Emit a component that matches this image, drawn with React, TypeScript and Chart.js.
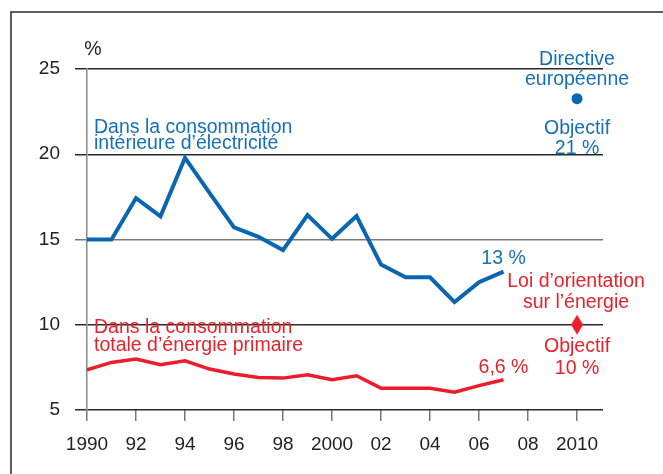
import React, { useEffect, useRef } from "react";
import { Chart, registerables } from "chart.js";

Chart.register(...registerables);

// ---------- data ----------
const years = [1990, 1991, 1992, 1993, 1994, 1995, 1996, 1997, 1998, 1999, 2000, 2001, 2002, 2003, 2004, 2005, 2006, 2007];
const electricityShare = [15.0, 15.0, 17.43, 16.36, 19.79, 17.73, 15.71, 15.16, 14.38, 16.43, 15.04, 16.37, 13.53, 12.78, 12.78, 11.33, 12.5, 13.12];
const primaryEnergyShare = [7.36, 7.79, 7.99, 7.66, 7.89, 7.4, 7.11, 6.91, 6.87, 7.07, 6.77, 7.01, 6.28, 6.28, 6.28, 6.04, 6.43, 6.77];
const targetYear = 2010;
const euDirectiveMarker = 23.26;
const lawTarget = 10;
const xTickValues = [1990, 1992, 1994, 1996, 1998, 2000, 2002, 2004, 2006, 2008, 2010];
const xTickLabels = ["1990", "92", "94", "96", "98", "2000", "02", "04", "06", "08", "2010"];
const yTickValues = [5, 10, 15, 20, 25];

// ---------- styles ----------
const BLUE = "#0a66b0";
const BLUE_TEXT = "#1670b8";
const RED = "#ec1c2a";
const RED_TEXT = "#e8222c";
const DARK = "#222222";
const FONT = '"Liberation Sans", Arial, sans-serif';

type Note = { lines: string[]; x: number; y: number; dx: number; dy: number[]; align: CanvasTextAlign; color: string };

const notes: Note[] = [
  { lines: ["%"], x: 1990, y: 25, dx: 6, dy: [-14.5], align: "center", color: DARK },
  { lines: ["Dans la consommation", "intérieure d’électricité"], x: 1990, y: 20, dx: 7, dy: [-21.5, -5], align: "left", color: BLUE_TEXT },
  { lines: ["Directive", "européenne"], x: targetYear, y: 25, dx: 0, dy: [-4, 15.5], align: "center", color: BLUE_TEXT },
  { lines: ["Objectif", "21 %"], x: targetYear, y: 20, dx: 0, dy: [-20, -0.5], align: "center", color: BLUE_TEXT },
  { lines: ["13 %"], x: 2007, y: electricityShare[electricityShare.length - 1], dx: 0, dy: [-8], align: "center", color: BLUE_TEXT },
  { lines: ["Loi d’orientation", "sur l’énergie"], x: targetYear, y: lawTarget, dx: -1, dy: [-37.5, -16.5], align: "center", color: RED_TEXT },
  { lines: ["Objectif", "10 %"], x: targetYear, y: lawTarget, dx: 0, dy: [27.5, 49.3], align: "center", color: RED_TEXT },
  { lines: ["Dans la consommation", "totale d’énergie primaire"], x: 1990, y: 10, dx: 7, dy: [8.3, 26], align: "left", color: RED_TEXT },
  { lines: ["6,6 %"], x: 2007, y: primaryEnergyShare[primaryEnergyShare.length - 1], dx: 0, dy: [-7], align: "center", color: RED_TEXT },
];

function makeDiamond(): HTMLCanvasElement {
  const c = document.createElement("canvas");
  c.width = 14;
  c.height = 22;
  const g = c.getContext("2d")!;
  g.fillStyle = RED;
  g.beginPath();
  g.moveTo(7, 1);
  g.lineTo(13, 11);
  g.lineTo(7, 21);
  g.lineTo(1, 11);
  g.closePath();
  g.fill();
  return c;
}

const framePlugin = {
  id: "frame",
  beforeDraw(chart: any) {
    const ctx = chart.ctx;
    ctx.save();
    ctx.fillStyle = "#ffffff";
    ctx.fillRect(0, 0, chart.width, chart.height);
    ctx.strokeStyle = "#2a2a2a";
    ctx.lineWidth = 1.5;
    ctx.strokeRect(11, 12, chart.width + 50, chart.height + 50);
    ctx.restore();
  },
};

const notesPlugin = {
  id: "notes",
  afterDatasetsDraw(chart: any) {
    const ctx = chart.ctx;
    const xs = chart.scales.x;
    const ys = chart.scales.y;
    ctx.save();
    ctx.font = `19.5px ${FONT}`;
    ctx.textBaseline = "alphabetic";
    for (const n of notes) {
      const px = xs.getPixelForValue(n.x) + n.dx;
      const py = ys.getPixelForValue(n.y);
      ctx.fillStyle = n.color;
      ctx.textAlign = n.align;
      n.lines.forEach((t, i) => ctx.fillText(t, px, py + n.dy[i]));
    }
    ctx.restore();
  },
};

export default function App() {
  const ref = useRef<HTMLCanvasElement>(null);

  useEffect(() => {
    const diamond = makeDiamond();
    const chart = new Chart(ref.current!, {
      type: "line",
      data: {
        datasets: [
          {
            data: years.map((y, i) => ({ x: y, y: electricityShare[i] })),
            borderColor: BLUE,
            borderWidth: 4,
            pointRadius: 0,
            tension: 0,
          },
          {
            data: years.map((y, i) => ({ x: y, y: primaryEnergyShare[i] })),
            borderColor: RED,
            borderWidth: 3.5,
            pointRadius: 0,
            tension: 0,
          },
          {
            data: [{ x: targetYear, y: euDirectiveMarker }],
            showLine: false,
            pointRadius: 5.5,
            pointStyle: "circle",
            backgroundColor: BLUE,
            borderColor: BLUE,
            borderWidth: 0,
          },
          {
            data: [{ x: targetYear, y: lawTarget }],
            showLine: false,
            pointStyle: diamond as any,
            pointRadius: 10,
          },
        ],
      },
      options: {
        animation: false,
        responsive: false,
        devicePixelRatio: 1,
        events: [],
        layout: { padding: { top: 69, right: 60, bottom: 0, left: 0 } },
        plugins: { legend: { display: false }, tooltip: { enabled: false } },
        scales: {
          x: {
            type: "linear",
            min: 1990,
            max: 2011.06,
            afterFit(scale: any) {
              scale.height = 64;
            },
            afterBuildTicks(scale: any) {
              scale.ticks = xTickValues.map((v) => ({ value: v }));
            },
            ticks: {
              autoSkip: false,
              maxRotation: 0,
              padding: 12,
              color: DARK,
              font: { family: FONT, size: 19 },
              callback: (v: any) => {
                const i = xTickValues.indexOf(Number(v));
                return i >= 0 ? xTickLabels[i] : "";
              },
            },
            grid: {
              drawOnChartArea: false,
              drawTicks: true,
              tickLength: 11,
              color: "#777777",
              lineWidth: 1.5,
            },
            border: { display: false },
          },
          y: {
            type: "linear",
            min: 5,
            max: 25,
            afterFit(scale: any) {
              scale.width = 87;
            },
            afterBuildTicks(scale: any) {
              scale.ticks = yTickValues.map((v) => ({ value: v }));
            },
            ticks: {
              padding: 15,
              color: DARK,
              font: { family: FONT, size: 19 },
            },
            grid: {
              drawTicks: true,
              tickLength: 12,
              lineWidth: 1.5,
              color: (c: any) => (c.tick && c.tick.value === 15 ? "#7a7a7a" : "#2a2a2a"),
            },
            border: { display: true, color: "#888888", width: 1.5 },
          },
        },
      },
      plugins: [framePlugin, notesPlugin],
    } as any);
    return () => chart.destroy();
  }, []);

  return (
    <div style={{ position: "fixed", left: 0, top: 0, width: 663, height: 474, overflow: "hidden", background: "#fff" }}>
      <canvas ref={ref} width={663} height={474} style={{ display: "block" }} />
    </div>
  );
}
